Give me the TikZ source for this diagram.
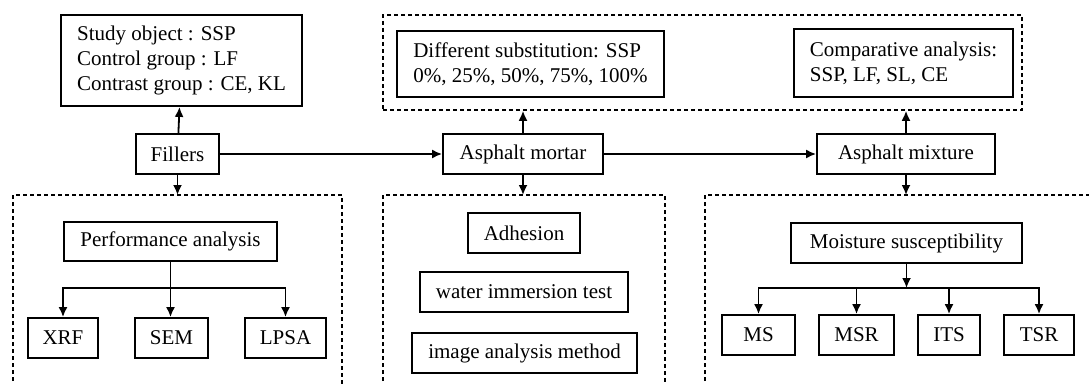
\documentclass[tikz,border=0pt]{standalone}
\usepackage{fontspec}
\setmainfont{Liberation Serif}
\usetikzlibrary{arrows.meta}

\begin{document}
\begin{tikzpicture}[x=1pt,y=-1pt,>={Latex[length=10pt,width=9pt]},
	box/.style={draw,line width=1.8pt,inner sep=0pt,minimum height=40pt,
		font=\fontsize{21}{25}\selectfont},
	grp/.style={draw,line width=1.6pt,dash pattern=on 4pt off 3pt},
	link/.style={line width=1.8pt}]
	\useasboundingbox (0,0) rectangle (1089,383);

	% main chain
	\node[box,minimum width=83pt] (fill) at (177.5,154) {Fillers};
	\node[box,minimum width=160pt] (mortar) at (523,154) {Asphalt mortar};
	\node[box,minimum width=178pt] (mix) at (906,154) {Asphalt mixture};

	% upper boxes
	\node[box,minimum width=241pt,minimum height=91pt,align=left] (obj) at (181.5,60.5)
		{Study object : SSP\\Control group : LF\\Contrast group : CE, KL};
	\node[grp,minimum width=639pt,minimum height=95pt,inner sep=0pt] (grpTop) at (702.5,62.5) {};
	\node[box,minimum width=267pt,minimum height=66pt,align=left] (subst) at (530.5,64)
		{Different substitution: SSP\\0\%, 25\%, 50\%, 75\%, 100\%};
	\node[box,minimum width=219pt,minimum height=68pt,align=left] (comp) at (903.5,63)
		{Comparative analysis:\\SSP, LF, SL, CE};

	% lower groups (open at the bottom)
	\draw[grp] (13,395) -- (13,195) coordinate (gl) -- (342,195) -- (342,395);
	\draw[grp] (383,395) -- (383,195) coordinate (gm) -- (665,195) -- (665,395);
	\draw[grp] (705,395) -- (705,195) coordinate (gr) -- (1095,195);

	\node[box,minimum width=213pt,minimum height=39pt] (perf) at (170.5,241.5) {Performance analysis};
	\node[box,minimum width=70pt] (xrf) at (63,338) {XRF};
	\node[box,minimum width=73pt] (sem) at (171.5,338) {SEM};
	\node[box,minimum width=81pt] (lpsa) at (285.5,338) {LPSA};

	\node[box,minimum width=112pt] (adh) at (524,233) {Adhesion};
	\node[box,minimum width=208pt] (water) at (524,292) {water immersion test};
	\node[box,minimum width=225pt] (image) at (524.5,353) {image analysis method};

	\node[box,minimum width=231pt] (moist) at (906.5,243) {Moisture susceptibility};
	\node[box,minimum width=73pt] (ms) at (758.5,335) {MS};
	\node[box,minimum width=75pt] (msr) at (856.5,335) {MSR};
	\node[box,minimum width=62pt] (its) at (949,335) {ITS};
	\node[box,minimum width=70pt] (tsr) at (1039,335) {TSR};

	% connectors
	\draw[link,->] (fill) -- (obj);
	\draw[link,->] (fill.south) -- (fill.south |- gl);
	\draw[link,->] (fill) -- (mortar);
	\draw[link,->] (mortar.north) -- (mortar.north |- grpTop.south);
	\draw[link,->] (mortar.south) -- (mortar.south |- gm);
	\draw[link,->] (mortar) -- (mix);
	\draw[link,->] (mix.north) -- (mix.north |- grpTop.south);
	\draw[link,->] (mix.south) -- (mix.south |- gr);

	\coordinate (pj) at (170.5,288);
	\draw[link] (perf.south) -- (pj);
	\draw[link,->] (pj) -| (xrf.north);
	\draw[link,->] (pj) -| (lpsa.north);
	\draw[link,->] (pj) -- (pj |- sem.north);

	\coordinate (mj) at (906.5,288);
	\draw[link,->] (moist.south) -- (mj);
	\foreach \k in {ms,msr,its,tsr}
		\draw[link,->] (mj) -| (\k.north);
\end{tikzpicture}
\end{document}
